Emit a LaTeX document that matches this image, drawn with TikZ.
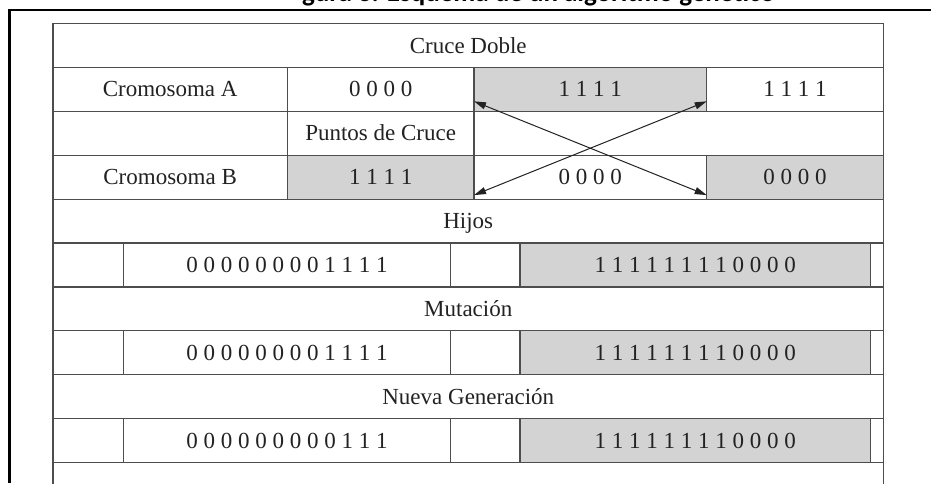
\documentclass[tikz,border=0pt]{standalone}
\usepackage{fontspec}
\setmainfont{Liberation Serif}
\newfontfamily\titlefont{Carlito}
\usetikzlibrary{positioning,arrows.meta}

\definecolor{linegray}{HTML}{4D4D4D}
\definecolor{cellgray}{HTML}{D3D3D3}
\definecolor{inkgray}{HTML}{222222}

\begin{document}
\begin{tikzpicture}[x=1pt, y=-1pt, node distance=0pt,
    cell/.style = {draw=linegray, line width=1.2pt, minimum height=43.9pt, inner sep=0pt, outer sep=0pt,
                   text=inkgray, font=\fontsize{23}{26}\selectfont, text height=15.2pt, text depth=0pt},
    gene/.style = {cell, fill=cellgray},
    crossarrow/.style = {{Triangle[length=12pt,width=7pt]}-{Triangle[length=12pt,width=7pt]}, line width=1pt, draw=inkgray}]
    \clip (0,0) rectangle (931,483);

    % caption, cut off at the top
    \node[anchor=base east, inner sep=0pt, font=\titlefont\bfseries\fontsize{27}{32}\selectfont] (titulo) at (775,1) {gura 3. Esquema de un algoritmo genético};
    % outer frame
    \draw[line width=2.5pt] (9.5,483) |- (931,10);

    % crossover
    \node[cell, minimum width=830.5pt, anchor=north west] (cruce) at (53,23.5) {Cruce Doble};
    \node[cell, minimum width=234.3pt, below right=0pt and 0pt of cruce.south west] (a1) {Cromosoma A};
    \node[cell, minimum width=186.7pt, right=of a1] (a2) {0 0 0 0};
    \node[gene, minimum width=232.7pt, right=of a2] (a3) {1 1 1 1};
    \node[cell, minimum width=176.8pt, right=of a3] (a4) {1 1 1 1};

    \node[cell, minimum width=234.3pt, below right=0pt and 0pt of a1.south west] (p1) {};
    \node[cell, minimum width=186.7pt, right=of p1] (p2) {Puntos de Cruce};
    \node[cell, minimum width=409.5pt, right=of p2] (p3) {};

    \node[cell, minimum width=234.3pt, below right=0pt and 0pt of p1.south west] (b1) {Cromosoma B};
    \node[gene, minimum width=186.7pt, right=of b1] (b2) {1 1 1 1};
    \node[cell, minimum width=232.7pt, right=of b2] (b3) {0 0 0 0};
    \node[gene, minimum width=176.8pt, right=of b3] (b4) {0 0 0 0};

    \draw[crossarrow] ([yshift=10pt]a3.south west) -- ([yshift=4pt]b3.south east);
    \draw[crossarrow] ([yshift=10pt]a3.south east) -- ([yshift=4pt]b3.south west);

    % offspring
    \node[cell, minimum width=830.5pt, below right=0pt and 0pt of b1.south west] (hijos) {Hijos};
    \node[cell, minimum width=70.3pt, below right=0pt and 0pt of hijos.south west] (h1) {};
    \node[cell, minimum width=327.4pt, right=of h1] (h2) {0 0 0 0 0 0 0 0 1 1 1 1};
    \node[cell, minimum width=69.3pt, right=of h2] (h3) {};
    \node[gene, minimum width=350.7pt, right=of h3] (h4) {1 1 1 1 1 1 1 1 0 0 0 0};
    \node[cell, minimum width=12.8pt, right=of h4] (h5) {};

    % mutation
    \node[cell, minimum width=830.5pt, below right=0pt and 0pt of h1.south west] (mutacion) {Mutación};
    \node[cell, minimum width=70.3pt, below right=0pt and 0pt of mutacion.south west] (m1) {};
    \node[cell, minimum width=327.4pt, right=of m1] (m2) {0 0 0 0 0 0 0 0 1 1 1 1};
    \node[cell, minimum width=69.3pt, right=of m2] (m3) {};
    \node[gene, minimum width=350.7pt, right=of m3] (m4) {1 1 1 1 1 1 1 1 0 0 0 0};
    \node[cell, minimum width=12.8pt, right=of m4] (m5) {};

    % new generation
    \node[cell, minimum width=830.5pt, below right=0pt and 0pt of m1.south west] (nueva) {Nueva Generación};
    \node[cell, minimum width=70.3pt, below right=0pt and 0pt of nueva.south west] (n1) {};
    \node[cell, minimum width=327.4pt, right=of n1] (n2) {0 0 0 0 0 0 0 0 0 1 1 1};
    \node[cell, minimum width=69.3pt, right=of n2] (n3) {};
    \node[gene, minimum width=350.7pt, right=of n3] (n4) {1 1 1 1 1 1 1 1 0 0 0 0};
    \node[cell, minimum width=12.8pt, right=of n4] (n5) {};

    \node[cell, minimum width=830.5pt, below right=0pt and 0pt of n1.south west] (resto) {};
\end{tikzpicture}
\end{document}
